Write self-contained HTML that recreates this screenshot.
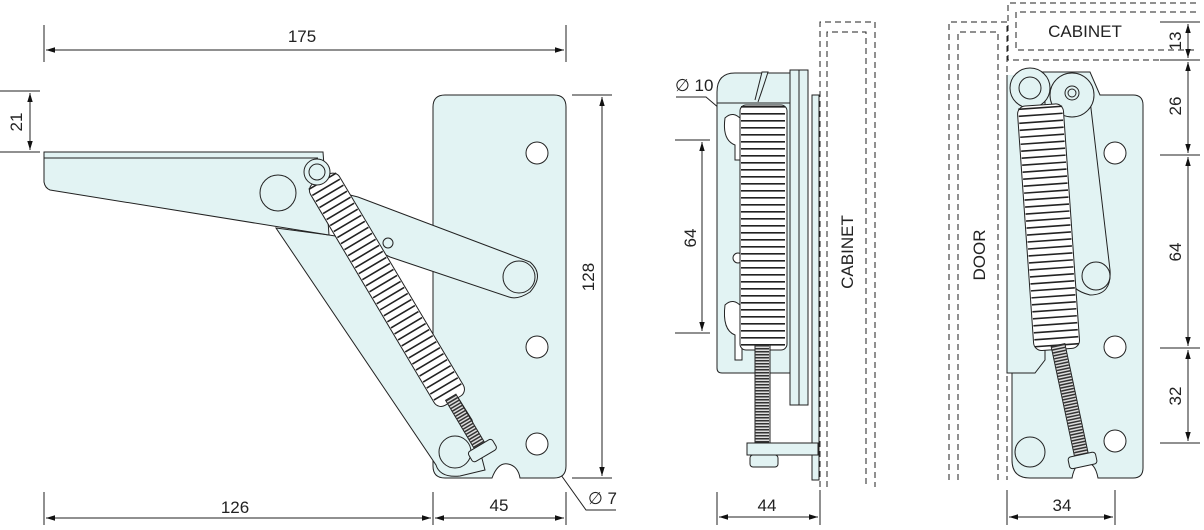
<!DOCTYPE html>
<html><head><meta charset="utf-8"><style>
html,body{margin:0;padding:0;background:#fff;}
svg{display:block;}
text{font-family:"Liberation Sans",sans-serif;font-size:17px;fill:#222;}
</style></head><body>
<svg width="1204" height="530" viewBox="0 0 1204 530" xmlns="http://www.w3.org/2000/svg">
<defs>
<marker id="a" viewBox="0 0 10 10" refX="10" refY="5" markerWidth="9" markerHeight="9" orient="auto-start-reverse"><path d="M0,2 L10,5 L0,8 z" fill="#111"/></marker>
</defs>
<g stroke="#222" stroke-width="1" fill="none">
<!-- ===== LEFT VIEW ===== -->
<line x1="44" y1="25" x2="44" y2="62"/><line x1="566" y1="25" x2="566" y2="62"/>
<line x1="46" y1="50" x2="564" y2="50" marker-start="url(#a)" marker-end="url(#a)"/>
<line x1="0" y1="91" x2="40" y2="91"/><line x1="0" y1="152" x2="40" y2="152"/>
<line x1="30" y1="93" x2="30" y2="150" marker-start="url(#a)" marker-end="url(#a)"/>
<line x1="572" y1="95" x2="612" y2="95"/><line x1="572" y1="478" x2="612" y2="478"/>
<line x1="602" y1="97" x2="602" y2="476" marker-start="url(#a)" marker-end="url(#a)"/>
<line x1="44" y1="492" x2="44" y2="525"/><line x1="433" y1="492" x2="433" y2="525"/><line x1="566" y1="492" x2="566" y2="525"/>
<line x1="46" y1="518" x2="431" y2="518" marker-start="url(#a)" marker-end="url(#a)"/>
<line x1="435" y1="518" x2="564" y2="518" marker-start="url(#a)" marker-end="url(#a)"/>
<polyline points="616,510 586,510 541,447" marker-end="url(#a)"/>
<path d="M445,95 H554 Q566,95 566,107 V466 Q566,478 554,478 H520 Q518,466 508,464 Q498,462 492,478 H445 Q433,478 433,466 V107 Q433,95 445,95 Z" fill="#e2f3f3"/>
<circle cx="537" cy="153" r="11" fill="#fff"/><circle cx="537" cy="347" r="11" fill="#fff"/><circle cx="537" cy="444" r="11" fill="#fff"/>
<path d="M276,228 L329,235 L360,240 L472,420 L485,470 L460,476 Q440,478 436,465 Z" fill="#e2f3f3"/>
<circle cx="455" cy="452" r="16" fill="#e2f3f3"/>
<path d="M44,152 H323 L329,235 L50,190 Q45,188 44,182 Z" fill="#e2f3f3"/>
<line x1="44" y1="158" x2="318" y2="158"/>
<circle cx="278" cy="193" r="18" fill="#e2f3f3"/>
<path d="M330,190 L358,197 L530,262 Q545,275 530,292 Q518,300 509,297 L390,257 L336,230 Z" fill="#e2f3f3"/>
<circle cx="519" cy="277" r="16" fill="#e2f3f3"/>
<g transform="translate(317,172) rotate(59.3)">
<rect x="8" y="-17" width="258" height="34" rx="8" fill="#fff"/>
<line x1="10" y1="0" x2="262" y2="0" stroke="#222" stroke-width="32" stroke-dasharray="1.6 5.4"/>
<rect x="262" y="-6" width="60" height="12" fill="#ddd"/>
<line x1="262" y1="0" x2="322" y2="0" stroke="#333" stroke-width="12" stroke-dasharray="1.5 1.5"/>
<rect x="318" y="-14" width="12" height="28" rx="3" fill="#e2f3f3"/>
</g>
<circle cx="317" cy="172" r="13" fill="#e2f3f3"/><circle cx="317" cy="172" r="8" fill="#e2f3f3"/>
<circle cx="388" cy="243" r="5" fill="#e2f3f3"/>

<!-- ===== MIDDLE VIEW ===== -->
<path d="M820,487 V22 H875 V487" stroke-dasharray="6 4"/>
<path d="M827,487 V32 H866 V487" stroke-dasharray="6 4"/>
<line x1="717" y1="492" x2="717" y2="525"/><line x1="820" y1="490" x2="820" y2="525"/>
<line x1="719" y1="517" x2="818" y2="517" marker-start="url(#a)" marker-end="url(#a)"/>
<line x1="675" y1="140" x2="710" y2="140"/><line x1="675" y1="333" x2="710" y2="333"/>
<line x1="702" y1="142" x2="702" y2="331" marker-start="url(#a)" marker-end="url(#a)"/>
<polyline points="676,97 706,97 740,126" marker-end="url(#a)"/>
<path d="M735,73 H790 V373 H722 Q717,373 717,368 V92 Q717,73 735,73 Z" fill="#e2f3f3"/>
<line x1="717" y1="103" x2="790" y2="103"/>
<rect x="790" y="70" width="9" height="335" fill="#e2f3f3"/>
<rect x="799" y="70" width="9" height="335" fill="#e2f3f3"/>
<rect x="812" y="95" width="7" height="385" fill="#e2f3f3"/>
<path d="M725,118 Q733,110 742,120 V160 H735 V145 Q722,140 725,118 Z" fill="#fff"/>
<path d="M725,305 Q733,297 742,307 V360 H735 V335 Q722,330 725,305 Z" fill="#fff"/>
<circle cx="738" cy="258" r="5" fill="#fff"/>
<rect x="740" y="105" width="47" height="245" rx="6" fill="#fff"/>
<line x1="763" y1="106" x2="763" y2="348" stroke="#222" stroke-width="44" stroke-dasharray="1.6 5.4"/>
<rect x="755" y="345" width="15" height="98" fill="#ddd"/>
<line x1="762" y1="345" x2="762" y2="443" stroke="#333" stroke-width="14" stroke-dasharray="1.5 1.5"/>
<rect x="747" y="443" width="71" height="12" fill="#e2f3f3"/>
<rect x="750" y="455" width="28" height="12" rx="3" fill="#e2f3f3"/>
<path d="M755,100 Q760,80 762,72 H768 Q764,85 758,102" fill="#e2f3f3"/>

<!-- ===== RIGHT VIEW ===== -->
<path d="M949,480 V22 H1007 V480" stroke-dasharray="6 4"/>
<path d="M958,480 V32 H998 V480" stroke-dasharray="6 4"/>
<path d="M1196,3 H1008 V60 H1196" stroke-dasharray="6 4"/>
<path d="M1196,12 H1016 V50 H1196" stroke-dasharray="6 4"/>
<line x1="1160" y1="22" x2="1200" y2="22"/><line x1="1160" y1="60" x2="1200" y2="60"/>
<line x1="1160" y1="155" x2="1200" y2="155"/><line x1="1160" y1="348" x2="1200" y2="348"/>
<line x1="1160" y1="443" x2="1200" y2="443"/>
<line x1="1188" y1="24" x2="1188" y2="58" marker-start="url(#a)" marker-end="url(#a)"/>
<line x1="1188" y1="62" x2="1188" y2="153" marker-start="url(#a)" marker-end="url(#a)"/>
<line x1="1188" y1="157" x2="1188" y2="346" marker-start="url(#a)" marker-end="url(#a)"/>
<line x1="1188" y1="350" x2="1188" y2="441" marker-start="url(#a)" marker-end="url(#a)"/>
<line x1="1007" y1="490" x2="1007" y2="525"/><line x1="1115" y1="490" x2="1115" y2="525"/>
<line x1="1009" y1="517" x2="1113" y2="517" marker-start="url(#a)" marker-end="url(#a)"/>
<path d="M1100,95 H1133 Q1143,95 1143,105 V468 Q1143,478 1133,478 H1098 Q1095,462 1085,462 Q1075,462 1072,478 H1030 Q1012,478 1012,460 V90 L1022,72 H1090 Z" fill="#e2f3f3"/>
<circle cx="1115" cy="153" r="11" fill="#fff"/><circle cx="1115" cy="347" r="11" fill="#fff"/><circle cx="1115" cy="441" r="11" fill="#fff"/>
<circle cx="1030" cy="452" r="15" fill="#e2f3f3"/>
<path d="M1007,75 V373 H1035 L1045,360 V75" fill="#e2f3f3"/>
<path d="M1050,110 L1090,100 L1110,270 Q1112,295 1090,295 Q1070,290 1068,275 L1060,210 Z" fill="#e2f3f3"/>
<circle cx="1096" cy="276" r="14" fill="#e2f3f3"/>
<circle cx="1030" cy="88" r="20" fill="#e2f3f3"/><circle cx="1030" cy="88" r="11" fill="#e2f3f3"/>
<circle cx="1072" cy="95" r="22" fill="#e2f3f3"/><circle cx="1072" cy="93" r="7" fill="#e2f3f3"/><circle cx="1072" cy="93" r="4"/>
<g transform="translate(1040,105) rotate(86)">
<rect x="0" y="-23" width="245" height="46" rx="8" fill="#fff"/>
<line x1="2" y1="0" x2="243" y2="0" stroke="#222" stroke-width="44" stroke-dasharray="1.6 5.4"/>
</g>
<g transform="translate(1058,345) rotate(78)">
<rect x="0" y="-7" width="115" height="14" fill="#ddd"/>
<line x1="0" y1="0" x2="115" y2="0" stroke="#333" stroke-width="13" stroke-dasharray="1.5 1.5"/>
<rect x="112" y="-14" width="12" height="28" rx="3" fill="#e2f3f3"/>
</g>
</g>
<text x="302" y="42" text-anchor="middle">175</text>
<text transform="translate(22,122) rotate(-90)" text-anchor="middle">21</text>
<text transform="translate(594,277) rotate(-90)" text-anchor="middle">128</text>
<text x="235" y="513" text-anchor="middle">126</text>
<text x="499" y="511" text-anchor="middle">45</text>
<text x="588" y="504">∅ 7</text>
<text x="675" y="91">∅ 10</text>
<text transform="translate(696,238) rotate(-90)" text-anchor="middle">64</text>
<text transform="translate(853,252) rotate(-90)" text-anchor="middle">CABINET</text>
<text x="767" y="511" text-anchor="middle">44</text>
<text transform="translate(985,255) rotate(-90)" text-anchor="middle">DOOR</text>
<text x="1085" y="37" text-anchor="middle">CABINET</text>
<text transform="translate(1181,41) rotate(-90)" text-anchor="middle">13</text>
<text transform="translate(1181,106) rotate(-90)" text-anchor="middle">26</text>
<text transform="translate(1181,252) rotate(-90)" text-anchor="middle">64</text>
<text transform="translate(1181,396) rotate(-90)" text-anchor="middle">32</text>
<text x="1062" y="511" text-anchor="middle">34</text>
</svg>
</body></html>
